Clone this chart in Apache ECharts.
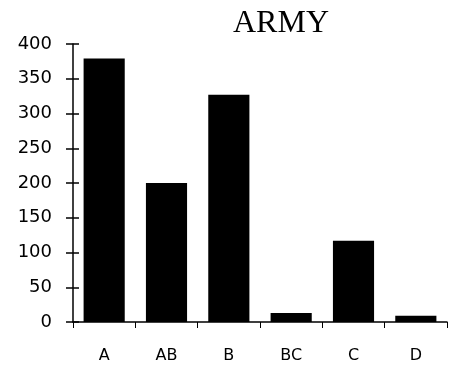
<!DOCTYPE html>
<html><head><meta charset="utf-8">
<script src="https://cdn.jsdelivr.net/npm/echarts@6/dist/echarts.min.js"></script>
<style>html,body{margin:0;padding:0;background:#fff}#c{width:450px;height:366px}</style>
</head><body><div id="c"></div>
<script>
const title = "ARMY";
const categories = ["A", "AB", "B", "BC", "C", "D"];
const values = [379, 200, 327, 13, 117, 9];
const yMin = 0, yMax = 400, yStep = 50;

const chart = echarts.init(document.getElementById('c'), null, {renderer: 'canvas'});
chart.setOption({
  animation: false,
  backgroundColor: '#fff',
  title: {
    text: title, left: 276, top: 3, textAlign: 'center',
    textStyle: {fontFamily: 'Liberation Serif', fontWeight: 'normal', fontSize: 32, color: '#000'}
  },
  grid: {left: 73, right: 3, top: 44, bottom: 44},
  xAxis: {
    type: 'category', data: categories,
    axisLine: {lineStyle: {color: '#000', width: 1.5}},
    axisTick: {show: true, length: 6, lineStyle: {color: '#000'}},
    axisLabel: {margin: 26, color: '#000', fontFamily: 'DejaVu Sans', fontSize: 16}
  },
  yAxis: [{
    type: 'value', min: yMin, max: yMax, interval: yStep,
    axisLine: {show: true, lineStyle: {color: '#000', width: 1.5}},
    axisTick: {show: true, length: 7, lineStyle: {color: '#000', width: 1.5}},
    axisLabel: {margin: 21, color: '#000', fontFamily: 'DejaVu Sans', fontSize: 18},
    splitLine: {show: false}
  }, {
    type: 'value', min: yMin, max: yMax, interval: yStep, position: 'left',
    axisLine: {show: false},
    axisTick: {show: true, inside: true, length: 6, lineStyle: {color: '#000', width: 1.5}},
    axisLabel: {show: false},
    splitLine: {show: false}
  }],
  series: [{
    type: 'bar', data: values, barCategoryGap: '34%',
    itemStyle: {color: '#000'}
  }]
});
</script></body></html>
